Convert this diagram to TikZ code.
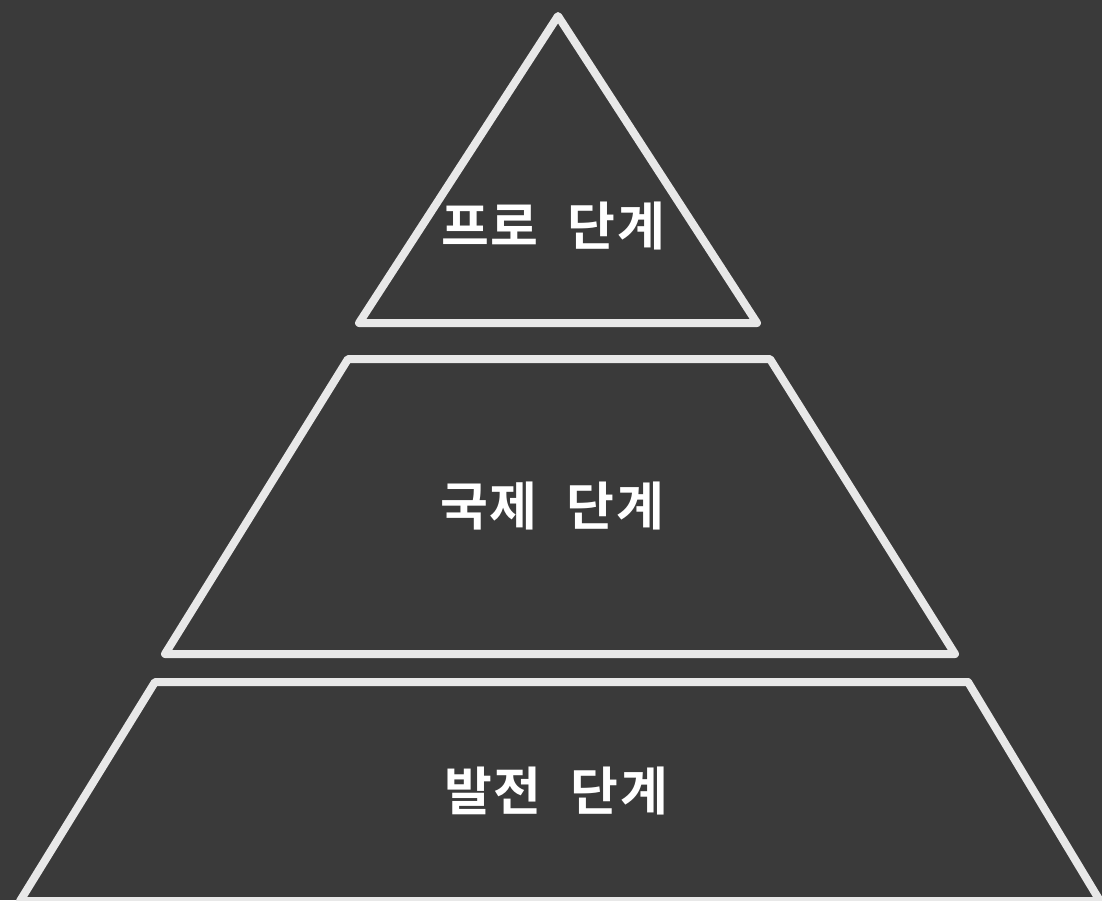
\documentclass[tikz,border=0pt]{standalone}
\usepackage{fontspec}
\newfontfamily\krfont{Noto Sans CJK KR}[BoldFont={Noto Sans CJK KR Bold}, LetterSpace=3, WordSpace=2.2]
\definecolor{bgdark}{RGB}{58,58,58}
\definecolor{tierline}{RGB}{232,232,232}
\begin{document}
\begin{tikzpicture}[x=0.5pt, y=-0.5pt,
		tier/.style={draw=tierline, line width=4pt, line join=round},
		tierlabel/.style={text=white, inner sep=0pt, font=\krfont\bfseries\fontsize{26}{30}\selectfont}
		]
	\fill[bgdark] (0,0) rectangle (1102,900);
	\useasboundingbox (0,0) rectangle (1102,900);
	\clip (0,0) rectangle (1102,900);
	% top, middle, bottom tiers
	\draw[tier] (558,16) -- (757,323) -- (359,323) -- cycle;
	\draw[tier] (348,359) -- (770,359) -- (955,654) -- (165,654) -- cycle;
	\draw[tier] (155,682) -- (968,682) -- (1100,901) -- (20,901) -- cycle;
	\node[tierlabel] (pro) at (553,226) {프로 단계};
	\node[tierlabel] (intl) at (552,506) {국제 단계};
	\node[tierlabel] (dev) at (556,791) {발전 단계};
\end{tikzpicture}
\end{document}
